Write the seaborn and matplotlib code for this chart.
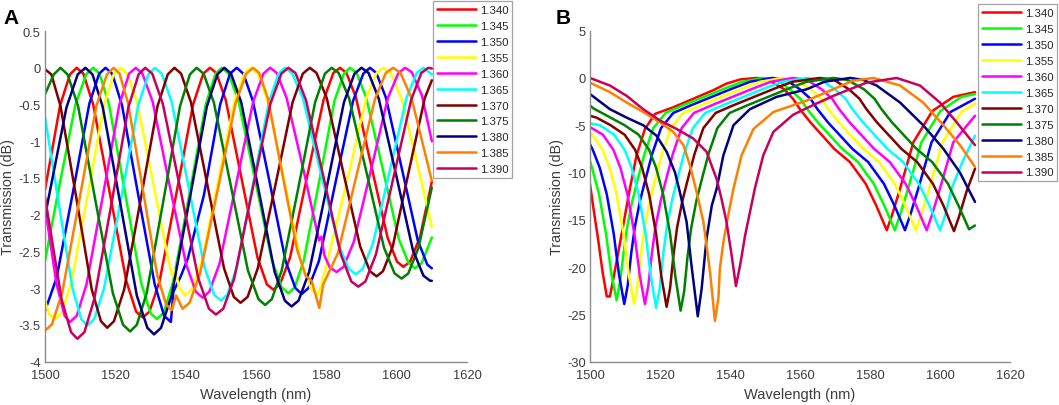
import pandas as pd
import matplotlib
matplotlib.use('Agg')
import matplotlib.pyplot as plt
import matplotlib.ticker as mticker
import seaborn as sns

# Refractive index of each curve and the colour used for it (same in both panels)
ri_labels = ['1.340', '1.345', '1.350', '1.355', '1.360', '1.365',
             '1.370', '1.375', '1.380', '1.385', '1.390']
line_colors = ['#ff0000', '#00ff00', '#0000ff', '#ffff00', '#ff00ff', '#00ffff',
               '#800000', '#008000', '#000080', '#ff8000', '#c8005a']

# ---- Panel A: wavelength (nm) and transmission (dB) ----
a_wl_340 = [1500, 1504.3, 1507.1, 1509, 1510.9, 1513.7, 1518.4, 1523.1, 1525.9, 1527.8, 1529.7, 1532.6, 1537.4,
            1542.1, 1545, 1546.9, 1548.7, 1551.4, 1555.9, 1560.4, 1563.1, 1564.9, 1566.8, 1569.7, 1574.4, 1579.2,
            1582, 1583.9, 1585.7, 1588.4, 1592.9, 1597.4, 1600.1, 1601.9, 1603.8, 1606.6, 1610]
a_db_340 = [-1.66, -0.51, -0.09, 0, -0.08, -0.5, -1.7, -2.9, -3.32, -3.4, -3.32, -2.9, -1.7,
            -0.5, -0.08, 0, -0.07, -0.44, -1.51, -2.58, -2.95, -3.02, -2.95, -2.58, -1.51, -0.44,
            -0.07, 0, -0.07, -0.4, -1.36, -2.31, -2.64, -2.71, -2.64, -2.31, -1.55]

a_wl_345 = [1500, 1503.5, 1508.6, 1511.7, 1513.7, 1515.5, 1518.2, 1522.8, 1527.3, 1530, 1531.8, 1533.7, 1536.4,
            1541.1, 1545.7, 1548.5, 1550.3, 1552.2, 1555, 1559.8, 1564.5, 1567.3, 1569.2, 1571, 1573.6, 1578,
            1582.3, 1585, 1586.7, 1588.6, 1591.3, 1596, 1600.6, 1603.4, 1605.2, 1607.1, 1610]
a_db_345 = [-2.63, -1.75, -0.51, -0.09, 0, -0.08, -0.5, -1.71, -2.92, -3.34, -3.42, -3.34, -2.92,
            -1.71, -0.5, -0.08, 0, -0.08, -0.45, -1.54, -2.62, -2.99, -3.07, -2.99, -2.62, -1.54,
            -0.45, -0.08, 0, -0.07, -0.4, -1.37, -2.33, -2.66, -2.73, -2.66, -2.31]

a_wl_350 = [1500, 1503.3, 1508, 1512.6, 1515.4, 1517.2, 1519.1, 1521.9, 1526.5, 1531.2, 1533.9, 1535.8, 1536.5,
            1538.5, 1540.6, 1545.2, 1549.8, 1552.6, 1554.5, 1556.4, 1559.1, 1563.8, 1568.4, 1571.2, 1573, 1574.9,
            1577.9, 1582.7, 1587.6, 1590.5, 1592.4, 1594.2, 1596.9, 1601.5, 1606, 1608.7, 1610]
a_db_350 = [-3.31, -2.86, -1.68, -0.49, -0.08, 0, -0.08, -0.51, -1.73, -2.95, -3.38, -3.46, -3.05,
            -2.85, -2.6, -1.73, -0.5, -0.08, 0, -0.08, -0.45, -1.54, -2.63, -3.0, -3.08, -3.0,
            -2.63, -1.54, -0.45, -0.08, 0, -0.07, -0.4, -1.38, -2.35, -2.68, -2.73]

a_wl_355 = [1500, 1501.2, 1502.8, 1504.7, 1507.5, 1512.2, 1516.8, 1519.6, 1521.5, 1523.3, 1526.1, 1530.7, 1535.2,
            1536.3, 1537, 1538.2, 1539.8, 1541.7, 1544.5, 1549.2, 1553.9, 1556.7, 1558.6, 1560.5, 1563.3, 1568.1,
            1572.8, 1575.6, 1577.5, 1578.6, 1579.5, 1582.5, 1586.6, 1591.4, 1594.3, 1596.2, 1598.3, 1601.5,
            1606.8, 1610]
a_db_355 = [-3.17, -3.36, -3.42, -3.34, -2.92, -1.71, -0.5, -0.08, 0, -0.08, -0.45, -1.55, -2.65,
            -2.84, -2.75, -3.0, -3.1, -3.02, -2.65, -1.55, -0.45, -0.08, 0, -0.08, -0.45, -1.55,
            -2.64, -3.01, -3.09, -2.95, -2.78, -2.2, -1.4, -0.4, -0.07, 0, -0.07, -0.44,
            -1.5, -2.17]

a_wl_360 = [1500, 1503.3, 1505.6, 1507.1, 1509, 1511.8, 1516.5, 1521.1, 1523.9, 1525.8, 1527.7, 1530.6, 1535.3,
            1540.1, 1542.9, 1544.8, 1546.7, 1549.6, 1554.4, 1559.2, 1562.1, 1564, 1565.9, 1568.7, 1573.5, 1577.9,
            1578.6, 1579.4, 1581, 1582.9, 1584.9, 1587.8, 1592.7, 1597.5, 1600.5, 1602.4, 1604.3, 1607.2, 1610]
a_db_360 = [-1.9, -2.95, -3.38, -3.46, -3.38, -2.95, -1.73, -0.51, -0.08, 0, -0.08, -0.46, -1.57,
            -2.67, -3.05, -3.13, -3.05, -2.67, -1.57, -0.46, -0.08, 0, -0.07, -0.41, -1.39, -2.35,
            -2.3, -2.55, -2.72, -2.78, -2.71, -2.37, -1.39, -0.41, -0.07, 0, -0.06, -0.38, -1.0]

a_wl_365 = [1500, 1503.6, 1507.8, 1510.3, 1512, 1514, 1516.8, 1521.7, 1526.5, 1529.4, 1531.3, 1533.2, 1536,
            1540.7, 1545.3, 1548.1, 1550, 1551.8, 1554.6, 1559.1, 1563.7, 1566.4, 1568.2, 1570.2, 1573.3, 1578.3,
            1583.4, 1586.4, 1588.4, 1590.3, 1593.2, 1598, 1602.8, 1605.7, 1607.6, 1610]
a_db_365 = [-0.67, -1.76, -3.0, -3.42, -3.51, -3.42, -3.0, -1.76, -0.51, -0.09, 0, -0.08, -0.46,
            -1.59, -2.71, -3.09, -3.17, -3.09, -2.71, -1.59, -0.46, -0.08, 0, -0.07, -0.41, -1.41,
            -2.4, -2.74, -2.81, -2.74, -2.4, -1.41, -0.41, -0.07, 0, -0.09]

a_wl_370 = [1500, 1501.8, 1504.4, 1508.9, 1513.3, 1515.9, 1517.7, 1519.6, 1522.5, 1527.3, 1532, 1534.9, 1536.8,
            1538.7, 1541.5, 1546.2, 1550.9, 1553.7, 1555.6, 1557.6, 1560.5, 1565.5, 1570.4, 1573.3, 1575.3, 1577.2,
            1580.1, 1584.8, 1589.6, 1592.4, 1594.3, 1596.1, 1598.9, 1603.4, 1608, 1610]
a_db_370 = [-0.02, -0.09, -0.52, -1.77, -3.02, -3.45, -3.54, -3.45, -3.02, -1.77, -0.52, -0.09, 0,
            -0.08, -0.47, -1.6, -2.73, -3.12, -3.2, -3.12, -2.73, -1.6, -0.47, -0.08, 0, -0.07,
            -0.41, -1.42, -2.43, -2.77, -2.84, -2.77, -2.43, -1.42, -0.41, -0.17]

a_wl_375 = [1500, 1502.5, 1504.4, 1506.4, 1509.4, 1514.3, 1519.3, 1522.2, 1524.2, 1526.1, 1528.9, 1533.7, 1538.4,
            1541.2, 1543.1, 1545.1, 1548, 1552.9, 1557.7, 1560.7, 1562.6, 1564.5, 1567.3, 1572.1, 1576.8, 1579.6,
            1581.5, 1583.5, 1586.5, 1591.5, 1596.4, 1599.4, 1601.4, 1603.3, 1606.2, 1610]
a_db_375 = [-0.36, -0.09, 0, -0.09, -0.52, -1.8, -3.07, -3.5, -3.59, -3.5, -3.07, -1.8, -0.52,
            -0.09, 0, -0.08, -0.47, -1.62, -2.76, -3.15, -3.23, -3.15, -2.76, -1.62, -0.47, -0.08,
            0, -0.07, -0.42, -1.44, -2.45, -2.8, -2.87, -2.8, -2.45, -1.63]

a_wl_380 = [1500, 1500.7, 1506.1, 1509.3, 1511.5, 1513.5, 1516.4, 1521.3, 1526.1, 1529.1, 1531, 1533, 1536,
            1541, 1546, 1549, 1551, 1552.9, 1555.8, 1560.6, 1565.3, 1568.2, 1570.1, 1572.1, 1575.1, 1580.1,
            1585, 1588, 1590, 1592, 1594.9, 1599.8, 1604.6, 1607.6, 1609.5, 1610]
a_db_380 = [-2.04, -1.85, -0.54, -0.09, 0, -0.09, -0.53, -1.82, -3.1, -3.54, -3.63, -3.54, -3.1,
            -1.82, -0.53, -0.09, 0, -0.08, -0.47, -1.63, -2.78, -3.17, -3.25, -3.17, -2.78, -1.63,
            -0.47, -0.08, 0, -0.07, -0.42, -1.45, -2.48, -2.83, -2.9, -2.9]

a_wl_385 = [1500, 1502, 1504.9, 1509.8, 1514.6, 1517.6, 1519.5, 1521.2, 1523.6, 1527.8, 1531.9, 1534.4, 1536,
            1537.3, 1539.1, 1541.1, 1544.1, 1549.2, 1554.2, 1557.2, 1559.2, 1560.9, 1563.4, 1567.5, 1571.7, 1574.1,
            1575.8, 1578, 1579.1, 1583.3, 1588.5, 1593.8, 1596.9, 1599, 1601.1, 1604.2, 1610]
a_db_385 = [-3.58, -3.49, -3.06, -1.79, -0.52, -0.09, 0, -0.08, -0.48, -1.65, -2.82, -3.22, -3.3,
            -3.1, -3.28, -3.2, -2.8, -1.64, -0.48, -0.08, 0, -0.07, -0.42, -1.45, -2.48, -2.83,
            -2.9, -3.27, -2.95, -2.52, -1.48, -0.43, -0.07, 0, -0.07, -0.41, -1.54]

a_wl_390 = [1500, 1504.7, 1507.4, 1509.2, 1511.2, 1514, 1518.9, 1523.7, 1526.6, 1528.5, 1530.5, 1533.5, 1538.6,
            1543.6, 1546.6, 1548.6, 1550.7, 1553.8, 1558.9, 1564.1, 1567.2, 1569.2, 1571.2, 1574.2, 1579.2, 1584.1,
            1587.1, 1589.1, 1591.1, 1594.1, 1599.1, 1604.1, 1607, 1609, 1610]
a_db_390 = [-1.76, -3.15, -3.6, -3.69, -3.6, -3.15, -1.85, -0.54, -0.09, 0, -0.08, -0.49, -1.68,
            -2.87, -3.28, -3.36, -3.28, -2.87, -1.68, -0.49, -0.08, 0, -0.07, -0.44, -1.49, -2.54,
            -2.91, -2.98, -2.91, -2.54, -1.49, -0.44, -0.07, 0, -0.01]

# ---- Panel B ----
b_wl_340 = [1500, 1501, 1502.3, 1503.6, 1504.8, 1505.7, 1506.7, 1508.1, 1509.5, 1510.5, 1511.4, 1513.3, 1515.7,
            1518.6, 1523.8, 1529.5, 1535.2, 1539, 1543, 1547.5, 1551, 1555.5, 1558, 1560, 1563, 1569.8, 1574.3,
            1578.8, 1581.8, 1584.8, 1586.3, 1588.6, 1592.4, 1597.8, 1603.8, 1610]
b_db_340 = [-11.2, -13.8, -17.0, -20.5, -23.1, -23.1, -21.2, -18.4, -15.6, -13.5, -11.7, -8.2, -5.4,
            -3.8, -3.1, -2.2, -1.3, -0.6, -0.15, 0, -0.2, -1.2, -2.2, -3.3, -4.7, -7.5, -8.9,
            -11.2, -13.5, -16.1, -14.5, -11.7, -6.8, -3.5, -2.0, -1.5]

b_wl_345 = [1500, 1500.6, 1502.6, 1504.6, 1506.1, 1507.6, 1508.6, 1509.6, 1510.6, 1512.1, 1513.6, 1515.6, 1518.1,
            1521.6, 1526.6, 1532.6, 1538.6, 1543.6, 1549.5, 1553.5, 1557.1, 1560.1, 1562.1, 1565.1, 1572.1,
            1576.6, 1581.1, 1584.1, 1587.1, 1588.6, 1590.9, 1594.7, 1600.1, 1606.1, 1610]
b_db_345 = [-8.8, -9.5, -12.3, -16.5, -20.7, -23.5, -21.5, -18.5, -15.8, -13.0, -10.8, -8.0, -5.3,
            -3.7, -2.9, -2.0, -1.1, -0.4, 0, -0.2, -1.2, -2.2, -3.3, -4.7, -7.5,
            -8.9, -11.2, -13.5, -16.1, -14.5, -11.7, -6.8, -3.5, -2.0, -1.7]

b_wl_350 = [1500, 1500.8, 1502.8, 1504.8, 1506.8, 1508.3, 1509.8, 1510.8, 1511.8, 1512.8, 1514.3, 1515.8, 1517.8,
            1520.3, 1523.8, 1528.8, 1534.8, 1540.8, 1545.8, 1552, 1556, 1560, 1563, 1565, 1568, 1575, 1579.5,
            1584, 1587, 1590, 1591.5, 1593.8, 1597.6, 1603, 1610]
b_db_350 = [-7.0, -7.6, -9.5, -12.3, -16.5, -20.8, -23.9, -21.9, -18.5, -15.8, -13.0, -10.8, -8.0,
            -5.3, -3.7, -2.9, -2.0, -1.1, -0.4, 0, -0.2, -1.2, -2.2, -3.3, -4.7, -7.5, -8.9,
            -11.2, -13.5, -16.1, -14.5, -11.7, -6.8, -3.6, -2.2]

b_wl_355 = [1500, 1500.6, 1503.6, 1505.6, 1507.6, 1509.6, 1511.1, 1512.6, 1513.6, 1514.6, 1515.6, 1517.1, 1518.6,
            1520.6, 1523.1, 1526.6, 1531.6, 1537.6, 1543.6, 1548.6, 1555, 1559, 1563.1, 1566.1, 1568.1, 1571.1,
            1578.1, 1582.6, 1587.1, 1590.1, 1593.1, 1594.6, 1596.9, 1600.7, 1606.1, 1610]
b_db_355 = [-5.8, -6.0, -7.6, -9.5, -12.3, -16.5, -20.8, -23.9, -21.9, -18.5, -15.8, -13.0, -10.8,
            -8.0, -5.3, -3.7, -2.9, -2.0, -1.1, -0.4, 0, -0.2, -1.2, -2.2, -3.3, -4.7,
            -7.5, -8.9, -11.2, -13.5, -16.1, -14.5, -11.7, -6.8, -3.6, -2.7]

b_wl_360 = [1500, 1503.7, 1506.7, 1508.7, 1510.7, 1512.7, 1514.2, 1515.7, 1516.7, 1517.7, 1518.7, 1520.2, 1521.7,
            1523.7, 1526.2, 1529.7, 1534.7, 1540.7, 1546.7, 1551.7, 1558, 1562, 1566.2, 1569.2, 1571.2, 1574.2,
            1581.2, 1585.7, 1590.2, 1593.2, 1596.2, 1597.7, 1600, 1603.8, 1610]
b_db_360 = [-5.2, -6.0, -7.6, -9.5, -12.3, -16.5, -20.8, -23.9, -21.9, -18.5, -15.8, -13.0, -10.8,
            -8.0, -5.3, -3.7, -2.9, -2.0, -1.1, -0.4, 0, -0.2, -1.2, -2.2, -3.3, -4.7,
            -7.5, -8.9, -11.2, -13.5, -16.1, -14.5, -11.7, -6.8, -4.0]

b_wl_365 = [1500, 1502.9, 1506.9, 1509.9, 1511.9, 1513.9, 1515.9, 1517.4, 1518.9, 1519.9, 1520.9, 1521.9, 1523.4,
            1524.9, 1526.9, 1529.4, 1532.9, 1537.9, 1543.9, 1549.9, 1554.9, 1562, 1566, 1570, 1573, 1575, 1578,
            1585, 1589.5, 1594, 1597, 1600, 1601.5, 1603.3, 1606.5, 1610]
b_db_365 = [-4.8, -5.0, -6.0, -7.6, -9.5, -12.3, -16.5, -21.0, -24.3, -22.3, -18.7, -15.9, -13.0,
            -10.8, -8.0, -5.3, -3.7, -2.9, -2.0, -1.1, -0.4, 0, -0.2, -1.2, -2.2, -3.3, -4.7,
            -7.5, -8.9, -11.2, -13.5, -16.1, -14.5, -11.7, -8.8, -6.1]

b_wl_370 = [1500, 1501.9, 1505.9, 1509.9, 1512.9, 1514.9, 1516.9, 1518.9, 1520.4, 1521.9, 1522.9, 1523.9, 1524.9,
            1526.4, 1527.9, 1529.9, 1532.4, 1535.9, 1540.9, 1546.9, 1552.9, 1557.9, 1565.7, 1569.7, 1574, 1577,
            1579, 1582, 1589, 1593.5, 1598, 1601, 1604, 1605.5, 1607.6, 1610]
b_db_370 = [-4.0, -4.2, -5.0, -6.0, -7.6, -9.5, -12.3, -16.5, -21.0, -24.2, -22.2, -18.6, -15.8,
            -13.0, -10.8, -8.0, -5.3, -3.7, -2.9, -2.0, -1.1, -0.4, 0, -0.2, -1.2, -2.2,
            -3.3, -4.7, -7.5, -8.9, -11.2, -13.5, -16.2, -14.6, -12.0, -9.6]

b_wl_375 = [1500, 1500.9, 1505.9, 1509.9, 1513.9, 1516.9, 1518.9, 1520.9, 1522.9, 1524.4, 1525.9, 1526.9, 1527.9,
            1528.9, 1530.4, 1531.9, 1533.9, 1536.4, 1539.9, 1544.9, 1550.9, 1556.9, 1561.9, 1569.5, 1573.5,
            1578.3, 1581.3, 1583.3, 1586.3, 1593.3, 1597.8, 1602.3, 1605.3, 1608.3, 1610]
b_db_375 = [-2.9, -3.2, -4.2, -5.0, -6.0, -7.6, -9.5, -12.3, -16.5, -21.0, -24.6, -22.6, -18.8,
            -15.9, -13.0, -10.8, -8.0, -5.3, -3.7, -2.9, -2.0, -1.1, -0.4, 0, -0.2,
            -1.2, -2.2, -3.3, -4.7, -7.5, -8.9, -11.2, -13.5, -16.0, -15.6]

b_wl_380 = [1500, 1505.7, 1510.5, 1515.2, 1519, 1521.9, 1524.3, 1525.7, 1527.6, 1529, 1530.8, 1531.9, 1533.3,
            1534.8, 1536.2, 1538.1, 1541, 1545.7, 1553.3, 1561.9, 1567, 1574.3, 1578, 1581.9, 1588.6, 1595.2,
            1601, 1605.7, 1610]
b_db_380 = [-1.7, -3.3, -4.2, -5.0, -6.1, -7.8, -10.0, -12.1, -15.2, -19.8, -25.2, -22.3, -17.0,
            -13.5, -11.7, -8.2, -5.0, -3.3, -2.0, -1.2, -0.4, 0, -0.2, -0.8, -2.6, -5.0,
            -7.5, -10.0, -13.1]

b_wl_385 = [1500, 1505.7, 1510.5, 1515.2, 1520, 1523.8, 1526.7, 1528.6, 1530.5, 1532.4, 1534.3, 1535.7, 1536.7,
            1537.1, 1538.1, 1539.5, 1541, 1543.3, 1546.7, 1552.4, 1561.9, 1569.5, 1575, 1581, 1588.6, 1595.2,
            1601, 1605.7, 1610]
b_db_385 = [-0.5, -1.5, -2.6, -3.6, -4.7, -5.7, -7.1, -9.3, -12.1, -15.2, -20.5, -25.7, -23.3,
            -20.2, -17.4, -14.5, -11.7, -8.2, -5.4, -3.6, -2.4, -1.2, -0.3, 0, -0.8, -2.6,
            -5.0, -7.1, -9.4]

b_wl_390 = [1500, 1505.7, 1510.5, 1515.2, 1520, 1524.8, 1529.5, 1533.3, 1536.2, 1537.6, 1539, 1540.5, 1541.7,
            1542.9, 1544.3, 1545.7, 1547.1, 1549.5, 1552.4, 1558, 1563, 1569.5, 1579, 1587.6, 1594.3, 1600,
            1604.8, 1610]
b_db_390 = [0, -0.8, -1.9, -3.3, -4.5, -5.4, -6.4, -7.8, -10.7, -12.8, -15.2, -18.8, -22.0,
            -19.8, -16.7, -14.2, -11.7, -8.2, -5.7, -3.9, -3.0, -1.9, -0.5, 0, -0.8, -2.6,
            -4.7, -7.1]

panel_a = [(a_wl_340, a_db_340), (a_wl_345, a_db_345), (a_wl_350, a_db_350), (a_wl_355, a_db_355),
           (a_wl_360, a_db_360), (a_wl_365, a_db_365), (a_wl_370, a_db_370), (a_wl_375, a_db_375),
           (a_wl_380, a_db_380), (a_wl_385, a_db_385), (a_wl_390, a_db_390)]
panel_b = [(b_wl_340, b_db_340), (b_wl_345, b_db_345), (b_wl_350, b_db_350), (b_wl_355, b_db_355),
           (b_wl_360, b_db_360), (b_wl_365, b_db_365), (b_wl_370, b_db_370), (b_wl_375, b_db_375),
           (b_wl_380, b_db_380), (b_wl_385, b_db_385), (b_wl_390, b_db_390)]


def to_long(curves):
    # one long table with a column telling which index each row belongs to
    frames = []
    for label, (wl, db) in zip(ri_labels, curves):
        frames.append(pd.DataFrame({'wavelength': wl, 'transmission': db, 'n': label}))
    return pd.concat(frames, ignore_index=True)


df_a = to_long(panel_a)
df_b = to_long(panel_b)

sns.set_style('white')
plt.rcParams['font.family'] = ['Liberation Sans', 'DejaVu Sans']
plt.rcParams['axes.unicode_minus'] = False

axis_grey = '#8c8c8c'
text_grey = '#3c3c3c'
palette = dict(zip(ri_labels, line_colors))

fig = plt.figure(figsize=(10.59, 4.06), dpi=100)
ax_a = fig.add_axes([0.0425, 0.107, 0.3985, 0.814])
ax_b = fig.add_axes([0.5571, 0.1067, 0.3966, 0.8153])

panels = [
    (ax_a, df_a, [-4, -3.5, -3, -2.5, -2, -1.5, -1, -0.5, 0, 0.5], (-4, 0.5), 'A', 0.0031, 433 / 1059, 0.995, -0.070),
    (ax_b, df_b, [-30, -25, -20, -15, -10, -5, 0, 5], (-30, 5), 'B', 0.525, 978 / 1059, 0.987, -0.062),
]

for ax, df, yticks, ylim, tag, tag_x, leg_x, leg_y, ylab_x in panels:
    sns.lineplot(data=df, x='wavelength', y='transmission', hue='n', hue_order=ri_labels,
                 palette=palette, estimator=None, sort=False, linewidth=1.8, ax=ax, legend=False)

    ax.set_xlim(1500, 1620)
    ax.set_ylim(*ylim)
    ax.set_xticks([1500, 1520, 1540, 1560, 1580, 1600, 1620])
    ax.set_yticks(yticks)
    ax.yaxis.set_major_formatter(mticker.FuncFormatter(lambda v, p: f'{v:g}'))

    sns.despine(ax=ax)
    for side in ['left', 'bottom']:
        ax.spines[side].set_color(axis_grey)
        ax.spines[side].set_linewidth(1.0)
    ax.tick_params(direction='in', length=3, width=0.9, color=axis_grey,
                   labelcolor=text_grey, labelsize=9.3)
    ax.tick_params(axis='x', pad=5.5)
    ax.tick_params(axis='y', pad=3)

    ax.set_xlabel('Wavelength (nm)', fontsize=10.5, color=text_grey)
    ax.set_ylabel('Transmission (dB)', fontsize=10.3, color=text_grey)
    ax.xaxis.set_label_coords(0.5, -0.076)
    ax.yaxis.set_label_coords(ylab_x, 0.5)

    leg = ax.legend(ax.get_lines()[:len(ri_labels)], ri_labels, loc='upper left',
                    bbox_to_anchor=(leg_x, leg_y), bbox_transform=fig.transFigure,
                    fontsize=8.2, frameon=True, fancybox=False, edgecolor=axis_grey,
                    handlelength=3.4, handletextpad=0.35, labelspacing=0.52,
                    borderpad=0.35, borderaxespad=0)
    leg.get_frame().set_linewidth(0.9)

    fig.text(tag_x, 0.941, tag, fontsize=15, fontweight='bold', color='black')

fig.savefig('out.png', dpi=100)
